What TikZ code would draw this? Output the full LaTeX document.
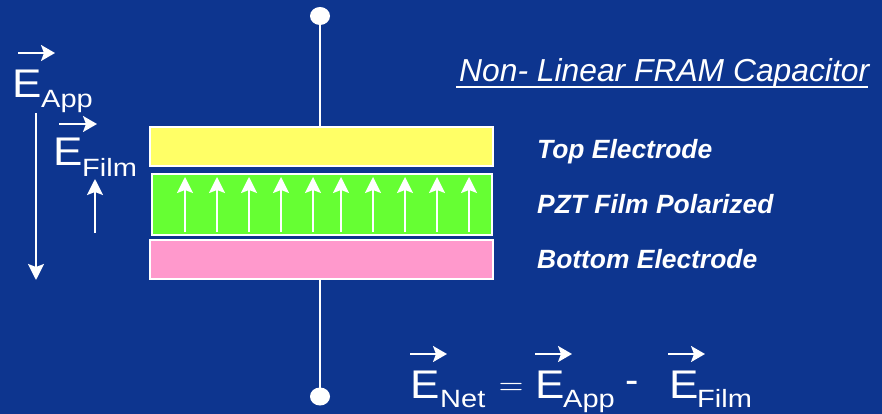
\documentclass[tikz,border=0pt]{standalone}
\usepackage{fontspec}
\usepackage{graphicx}
\setmainfont{Liberation Sans}
\newfontfamily\lmrfont{Latin Modern Roman}
\usetikzlibrary{arrows.meta,shapes.geometric}
\definecolor{bgblue}{RGB}{13,53,143}
\definecolor{topyel}{RGB}{255,255,102}
\definecolor{pztgreen}{RGB}{102,255,51}
\definecolor{botpink}{RGB}{255,153,204}
\newcommand{\bigE}{\fontsize{40}{40}\selectfont\scalebox{1.1}[1]{E}}
\newcommand{\subtxt}[1]{\fontsize{25}{25}\selectfont\scalebox{1.16}[1]{#1}}
\tikzset{
  txt/.style={text=white, inner sep=0pt, anchor=base west},
  layer/.style={draw=white, line width=2pt, rectangle, inner sep=0pt},
  vec/.style={draw=white, line width=2pt, -{Stealth[length=14pt,width=16pt,inset=3pt]}},
  field/.style={draw=white, line width=2pt, -{Stealth[length=16pt,width=16pt,inset=3pt]}},
  pol/.style={draw=white, line width=1.6pt, -{Stealth[length=16pt,width=16pt,inset=3pt]}},
  wire/.style={draw=white, line width=2pt},
  term/.style={ellipse, fill=white, minimum width=20pt, minimum height=18pt, inner sep=0pt},
  lbl/.style={text=white, inner sep=0pt, anchor=base west, font=\fontsize{26.4}{26.4}\selectfont\bfseries\itshape},
}
\begin{document}
\begin{tikzpicture}[x=1pt,y=-1pt]
\fill[bgblue] (0,0) rectangle (882,414);
\useasboundingbox (0,0) rectangle (882,414);

% capacitor layers
\node[layer, fill=topyel, minimum width=343pt, minimum height=39pt] (top) at (321.5,146.5) {};
\node[layer, fill=pztgreen, minimum width=340pt, minimum height=61pt] (pzt) at (322,204.5) {};
\node[layer, fill=botpink, minimum width=343pt, minimum height=39pt] (bot) at (321.5,259.5) {};

% terminals
\node[term] (dtop) at (320,16) {};
\node[term] (dbot) at (320,396.5) {};
\draw[wire] (dtop.center) -- (dtop.center |- top.north);
\draw[wire] (dbot.center) -- (dbot.center |- bot.south);

% polarization arrows
\foreach \x in {185,217,249,281,313,341,373,405,437,469}
  \draw[pol] (\x,232) -- (\x,177);

% labels
\node[txt, font=\fontsize{31.8}{31.8}\selectfont\itshape] (title) at (459,82) {Non- Linear FRAM Capacitor};
\draw[white, line width=1.6pt] (456,87) -- (868,87);
\node[lbl] (ltop) at (537,159) {Top Electrode};
\node[lbl] (lpzt) at (537,213) {PZT Film Polarized};
\node[lbl] (lbot) at (537,268) {Bottom Electrode};

% left field labels
\node[txt] (eapp) at (12,98) {\bigE};
\node[txt] (sapp) at (41,108) {\subtxt{App}};
\draw[vec] (18,53) -- (55,53);
\draw[field] (36,113) -- (36,280);

\node[txt] (efilm) at (53,165) {\bigE};
\node[txt] (sfilm) at (82,176) {\subtxt{Film}};
\draw[vec] (59,124) -- (97,124);
\draw[field] (95,233) -- (95,179);

% equation
\node[txt] (enet) at (410,398) {\bigE};
\node[txt] (snet) at (440,407) {\subtxt{Net}};
\draw[vec] (410,354) -- (447,354);
\node[text=white, inner sep=0pt, font=\fontsize{34}{34}\selectfont\lmrfont] (eq) at (511,389.5) {=};
\node[txt] (eapp2) at (535,398) {\bigE};
\node[txt] (sapp2) at (563,407) {\subtxt{App}};
\draw[vec] (535,354) -- (572,354);
\node[text=white, inner sep=0pt, font=\fontsize{40}{40}\selectfont] (minus) at (632,387) {-};
\node[txt] (efilm2) at (669,398) {\bigE};
\node[txt] (sfilm2) at (697,407) {\subtxt{Film}};
\draw[vec] (668,354) -- (705,354);
\end{tikzpicture}
\end{document}
